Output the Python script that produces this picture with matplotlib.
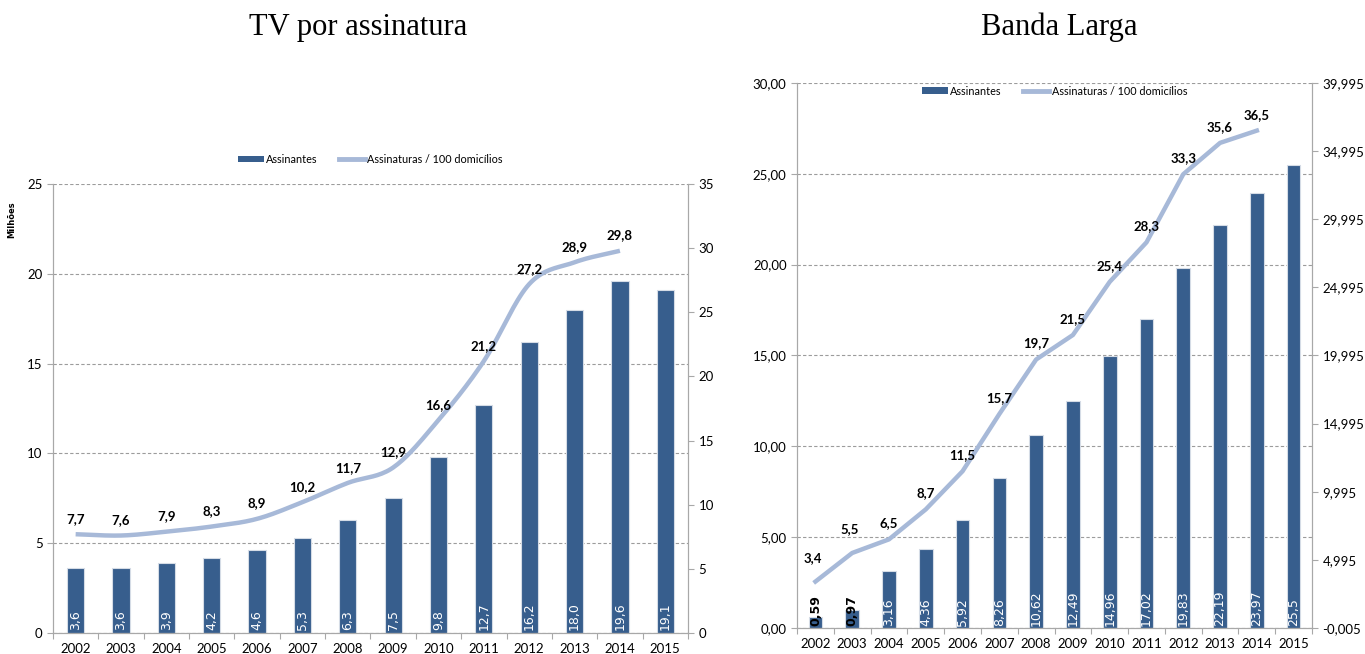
import numpy as np
import matplotlib
matplotlib.use("Agg")
import matplotlib.pyplot as plt
from matplotlib.lines import Line2D
from matplotlib.patches import Patch

# --- Data ---
anos = [str(a) for a in range(2002, 2016)]

tv_assinantes = [3.6, 3.6, 3.9, 4.2, 4.6, 5.3, 6.3, 7.5, 9.8, 12.7, 16.2, 18.0, 19.6, 19.1]
tv_por_100 = [7.7, 7.6, 7.9, 8.3, 8.9, 10.2, 11.7, 12.9, 16.6, 21.2, 27.2, 28.9, 29.8]

bl_assinantes = [0.59, 0.97, 3.16, 4.36, 5.92, 8.26, 10.62, 12.49, 14.96, 17.02, 19.83, 22.19, 23.97, 25.5]
bl_labels = ["0,59", "0,97", "3,16", "4,36", "5,92", "8,26", "10,62", "12,49",
             "14,96", "17,02", "19,83", "22,19", "23,97", "25,5"]
bl_por_100 = [3.4, 5.5, 6.5, 8.7, 11.5, 15.7, 19.7, 21.5, 25.4, 28.3, 33.3, 35.6, 36.5]

# --- Style ---
BAR = "#375E8D"
LINE = "#A7B9D8"
GRID = "#9c9c9c"
SPINE = "#a8a8a8"
plt.rcParams['font.family'] = ['Lato', 'DejaVu Sans']


def catmull_rom(x, y, n=20):
    # smooth curve through the points, like Excel's "smoothed line"
    x = np.asarray(x, float)
    y = np.asarray(y, float)
    px = np.concatenate([[2 * x[0] - x[1]], x, [2 * x[-1] - x[-2]]])
    py = np.concatenate([[2 * y[0] - y[1]], y, [2 * y[-1] - y[-2]]])
    xs, ys = [], []
    for i in range(1, len(px) - 2):
        t = np.linspace(0, 1, n, endpoint=False)
        for arr, out in ((px, xs), (py, ys)):
            p0, p1, p2, p3 = arr[i - 1], arr[i], arr[i + 1], arr[i + 2]
            out.extend(0.5 * ((2 * p1) + (-p0 + p2) * t
                              + (2 * p0 - 5 * p1 + 4 * p2 - p3) * t ** 2
                              + (-p0 + 3 * p1 - 3 * p2 + p3) * t ** 3))
    xs.append(x[-1])
    ys.append(y[-1])
    return np.array(xs), np.array(ys)


def comma(v, fmt):
    return (fmt % v).replace('.', ',')


def style_axes(ax, ax2, n):
    ax.set_xlim(-0.5, n - 0.5)
    ax.set_xticks(np.arange(n + 1) - 0.5)
    ax.set_xticklabels([])
    ax.set_xticks(np.arange(n), minor=True)
    ax.set_xticklabels(anos, minor=True, fontsize=9.5)
    ax.tick_params(axis='x', which='minor', length=0, pad=7)
    ax.tick_params(axis='x', which='major', length=4, color=SPINE)
    ax.tick_params(axis='y', length=4, color=SPINE, labelsize=9.5)
    ax2.tick_params(axis='y', length=4, color=SPINE, labelsize=9.5)
    ax.yaxis.grid(True, linestyle=(0, (3, 2)), color=GRID, linewidth=0.8)
    ax.set_axisbelow(True)
    for a in (ax, ax2):
        a.spines['top'].set_visible(False)
        for s in ('left', 'right', 'bottom'):
            a.spines[s].set_color(SPINE)


def add_legend(ax, y):
    handles = [Patch(facecolor=BAR, label='Assinantes'),
               Line2D([0], [0], color=LINE, lw=3.5, label='Assinaturas / 100 domicílios')]
    ax.legend(handles=handles, loc='center', bbox_to_anchor=(0.5, y), ncol=2,
              frameon=False, fontsize=7.8, handlelength=2.4, handleheight=0.6,
              columnspacing=2.0, handletextpad=0.2)


fig = plt.figure(figsize=(13.65, 6.54), dpi=100)

# --- TV por assinatura ---
ax = fig.add_axes([0.0388, 0.0321, 0.4652, 0.6865])
ax2 = ax.twinx()
x = np.arange(len(anos))
ax.bar(x, tv_assinantes, width=0.38, color=BAR, edgecolor='#d5dce6', linewidth=0.8, zorder=2)
ax.set_ylim(0, 25)
ax.set_yticks(range(0, 26, 5))
ax2.set_ylim(0, 35)
ax2.set_yticks(range(0, 36, 5))
sx, sy = catmull_rom(x[:len(tv_por_100)], tv_por_100)
ax2.plot(sx, sy, color=LINE, lw=3.2, solid_capstyle='butt')
for i, v in enumerate(tv_por_100):
    ax2.annotate(comma(v, '%.1f'), (i, v), xytext=(0, 11), textcoords='offset points',
                 ha='center', va='center', fontsize=9.5, fontweight='bold')
for i, v in enumerate(tv_assinantes):
    ax.text(i, 0.15, comma(v, '%.1f'), rotation=90, ha='center', va='bottom',
            color='white', fontsize=9, family='DejaVu Sans')
style_axes(ax, ax2, len(anos))
ax.set_ylabel('Milhões', fontsize=6, fontweight='bold', family='DejaVu Sans')
ax.yaxis.set_label_coords(-0.058, 0.92)
add_legend(ax, 1.055)
fig.text(0.262, 0.958, 'TV por assinatura', ha='center', va='center',
         fontsize=22, family='Liberation Serif')

# --- Banda Larga ---
bx = fig.add_axes([0.5839, 0.0398, 0.3773, 0.8333])
bx2 = bx.twinx()
bx.bar(x, bl_assinantes, width=0.37, color=BAR, edgecolor='#d5dce6', linewidth=0.8, zorder=2)
bx.set_ylim(0, 30)
bx.set_yticks(range(0, 31, 5))
bx.set_yticklabels([comma(v, '%.2f') for v in range(0, 31, 5)])
bx2.set_ylim(-0.005, 39.995)
rt = [t - 0.005 for t in range(0, 41, 5)]
bx2.set_yticks(rt)
bx2.set_yticklabels([comma(v, '%.3f') for v in rt])
bx2.plot(x[:len(bl_por_100)], bl_por_100, color=LINE, lw=3.2)
for i, v in enumerate(bl_por_100):
    dy = 17 if i < 2 else 11.5
    dx = -2 if i < 2 else 0
    bx2.annotate(comma(v, '%.1f'), (i, v), xytext=(dx, dy), textcoords='offset points',
                 ha='center', va='center', fontsize=9.5, fontweight='bold')
for i, (v, lab) in enumerate(zip(bl_assinantes, bl_labels)):
    small = v < 1.5
    bx.text(i, 0.12, lab, rotation=90, ha='center', va='bottom',
            color='black' if small else 'white', fontsize=9, family='DejaVu Sans',
            fontweight='bold' if small else 'normal')
style_axes(bx, bx2, len(anos))
add_legend(bx, 0.985)
fig.text(0.776, 0.958, 'Banda Larga', ha='center', va='center',
         fontsize=22, family='Liberation Serif')

fig.savefig('out.png', dpi=100)
